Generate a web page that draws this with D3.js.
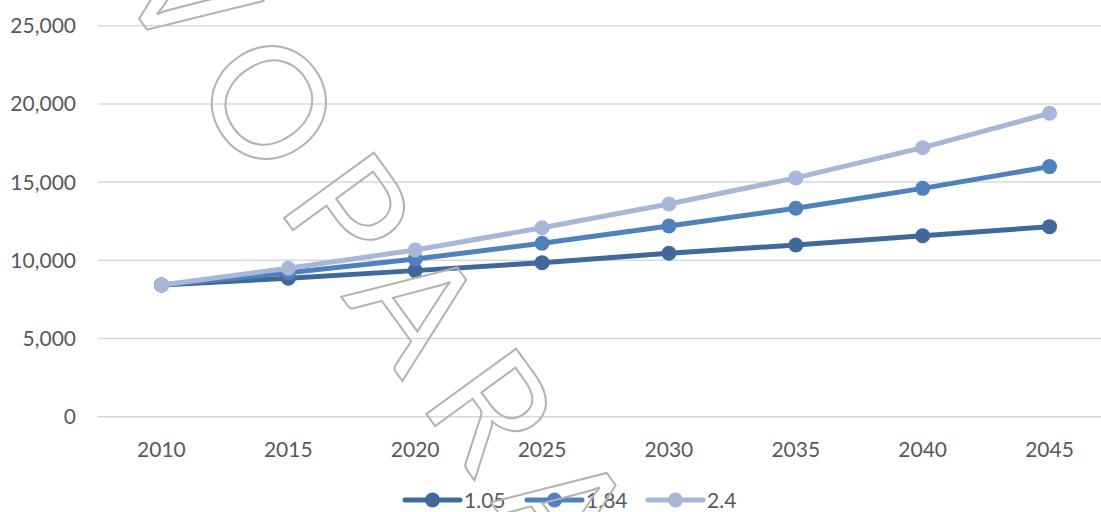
<!DOCTYPE html>
<html lang="en">
<head>
    <meta charset="UTF-8">
    <title>Projection chart</title>
    <script src="https://d3js.org/d3.v7.min.js"></script>
    <style>
        body { margin: 0; background: #fff; }
        text { font-family: Lato, "Open Sans", sans-serif; fill: #595959; }
    </style>
</head>
<body>
    <div id="chart"></div>
    <script>
        var years = ["2010", "2015", "2020", "2025", "2030", "2035", "2040", "2045"];
        var seriesNames = ["1.05", "1.84", "2.4"];
        var s105 = [8420, 8850, 9340, 9850, 10450, 10980, 11570, 12150];
        var s184 = [8420, 9200, 10080, 11090, 12190, 13330, 14600, 15990];
        var s24 = [8420, 9490, 10660, 12080, 13600, 15270, 17200, 19400];
        var yTicks = [0, 5000, 10000, 15000, 20000, 25000];
        var colors = ["#41689b", "#4f81bd", "#a7b7d8"];

        var w = 1101;
        var h = 512;

        var series = [s105, s184, s24].map(function(vals, i) {
            return { name: seriesNames[i], values: vals, color: colors[i] };
        });

        var xScale = d3.scaleBand()
                       .domain(years)
                       .range([98, 1113])
                       .padding(0);

        var yScale = d3.scaleLinear()
                       .domain([0, 25000])
                       .range([416.7, 25.7]);

        var svg = d3.select("#chart")
                    .append("svg")
                    .attr("width", w)
                    .attr("height", h);

        // gridlines
        svg.selectAll(".grid")
           .data(yTicks)
           .enter()
           .append("line")
           .attr("x1", 98)
           .attr("x2", w)
           .attr("y1", function(d) { return yScale(d); })
           .attr("y2", function(d) { return yScale(d); })
           .attr("stroke", "#d9d9d9")
           .attr("stroke-width", 1.5);

        // y labels
        svg.selectAll(".ylab")
           .data(yTicks)
           .enter()
           .append("text")
           .attr("x", 76)
           .attr("y", function(d) { return yScale(d); })
           .attr("dy", "0.36em")
           .attr("text-anchor", "end")
           .style("font-size", "21px")
           .text(function(d) { return d3.format(",")(d); });

        // x labels
        svg.selectAll(".xlab")
           .data(years)
           .enter()
           .append("text")
           .attr("x", function(d) { return xScale(d) + xScale.bandwidth() / 2; })
           .attr("y", 457)
           .attr("text-anchor", "middle")
           .style("font-size", "21px")
           .text(function(d) { return d; });

        var line = d3.line()
                     .x(function(d, i) { return xScale(years[i]) + xScale.bandwidth() / 2; })
                     .y(function(d) { return yScale(d); });

        var groups = svg.selectAll(".series")
                        .data(series)
                        .enter()
                        .append("g");

        groups.append("path")
              .attr("d", function(d) { return line(d.values); })
              .attr("fill", "none")
              .attr("stroke", function(d) { return d.color; })
              .attr("stroke-width", 5)
              .attr("stroke-linejoin", "round");

        groups.selectAll("circle")
              .data(function(d) { return d.values.map(function(v) { return { v: v, color: d.color }; }); })
              .enter()
              .append("circle")
              .attr("cx", function(d, i) { return xScale(years[i]) + xScale.bandwidth() / 2; })
              .attr("cy", function(d) { return yScale(d.v); })
              .attr("r", 7.5)
              .attr("fill", function(d) { return d.color; });

        // legend
        var legendX = [405, 527, 648];
        var legend = svg.selectAll(".legend")
                        .data(series)
                        .enter()
                        .append("g")
                        .attr("transform", function(d, i) { return "translate(" + legendX[i] + ",500)"; });

        legend.append("line")
              .attr("x1", 0).attr("x2", 55)
              .attr("y1", 0).attr("y2", 0)
              .attr("stroke", function(d) { return d.color; })
              .attr("stroke-width", 5)
              .attr("stroke-linecap", "round");

        legend.append("circle")
              .attr("cx", 27.5)
              .attr("r", 7.5)
              .attr("fill", function(d) { return d.color; });

        legend.append("text")
              .attr("x", 59)
              .attr("dy", "0.36em")
              .style("font-size", "21px")
              .text(function(d) { return d.name; });

        // watermark outline
        svg.append("text")
           .attr("transform", "translate(385,262) rotate(54)")
           .attr("text-anchor", "middle")
           .attr("dy", "0.36em")
           .style("font-size", "155px")
           .style("letter-spacing", "26px")
           .style("fill", "none")
           .style("stroke", "#b3b3b3")
           .style("stroke-width", 2)
           .text("VOPARA");
    </script>
</body>
</html>
